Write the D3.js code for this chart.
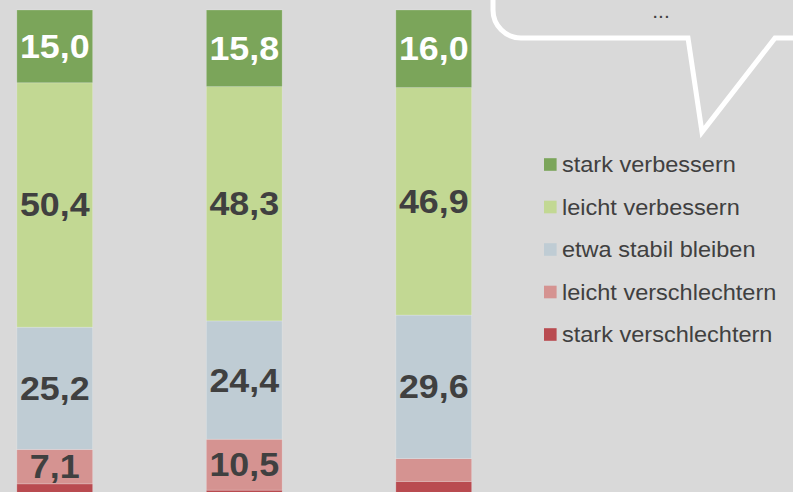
<!DOCTYPE html>
<html>
<head>
<meta charset="utf-8">
<script src="https://cdn.jsdelivr.net/npm/d3@7/dist/d3.min.js"></script>
<style>
  html, body { margin: 0; padding: 0; background: #d9d9d9; }
  svg { display: block; }
  text { font-family: "Liberation Sans", Arial, Helvetica, sans-serif; }
</style>
</head>
<body>
<svg id="chart" width="793" height="492"></svg>
<script>
// ---- Data ----
const categories = ["Gruppe 1", "Gruppe 2", "Gruppe 3"];
const seriesNames = ["stark verschlechtern", "leicht verschlechtern", "etwa stabil bleiben", "leicht verbessern", "stark verbessern"];
const starkVerschlechtern = [2.3, 1.0, 2.8];
const leichtVerschlechtern = [7.1, 10.5, 4.7];
const etwaStabil = [25.2, 24.4, 29.6];
const leichtVerbessern = [50.4, 48.3, 46.9];
const starkVerbessern = [15.0, 15.8, 16.0];
const legendOrder = ["stark verbessern", "leicht verbessern", "etwa stabil bleiben", "leicht verschlechtern", "stark verschlechtern"];
const calloutText = "...";

const colors = {
  "stark verbessern": "#7ba55a",
  "leicht verbessern": "#c2d893",
  "etwa stabil bleiben": "#bfccd4",
  "leicht verschlechtern": "#d59391",
  "stark verschlechtern": "#b94b50"
};
const labelColor = { "stark verbessern": "#ffffff" };

const seriesValues = [starkVerschlechtern, leichtVerschlechtern, etwaStabil, leichtVerbessern, starkVerbessern];
const table = categories.map((c, i) => {
  const row = { cat: c };
  seriesNames.forEach((s, j) => row[s] = seriesValues[j][i]);
  return row;
});

const svg = d3.select("#chart");
svg.append("rect").attr("width", 793).attr("height", 492).attr("fill", "#d9d9d9");

const x = d3.scaleBand().domain(categories).range([-40, 528.5]).paddingInner(0.6).paddingOuter(0.3);
const y = d3.scaleLinear().domain([0, 100]).range([495, 10]);

const stack = d3.stack().keys(seriesNames)(table);
const de = d3.formatLocale({ decimal: ",", thousands: ".", grouping: [3], currency: ["", " €"] });
const fmt = de.format(".1f");

const g = svg.append("g");
stack.forEach(layer => {
  const key = layer.key;
  const lg = g.append("g");
  lg.selectAll("rect").data(layer).join("rect")
    .attr("x", d => x(d.data.cat))
    .attr("width", x.bandwidth())
    .attr("y", d => y(d[1]))
    .attr("height", d => y(d[0]) - y(d[1]))
    .attr("fill", colors[key])
    .attr("stroke", "rgba(255,255,255,0.25)")
    .attr("stroke-width", 0.8);
  lg.selectAll("text").data(layer.filter(d => d[1] - d[0] >= 5)).join("text")
    .attr("transform", d => `translate(${x(d.data.cat) + x.bandwidth() / 2},${(y(d[0]) + y(d[1])) / 2 + 11.5}) scale(1.07,1)`)
    .attr("text-anchor", "middle")
    .attr("font-size", 33.5)
    .attr("font-weight", "bold")
    .attr("fill", labelColor[key] || "#404040")
    .text(d => fmt(d[1] - d[0]));
});

// Legend
const legend = svg.append("g");
const ly = d3.scalePoint().domain(legendOrder).range([164.5, 334.5]);
legendOrder.forEach(k => {
  legend.append("rect").attr("x", 544).attr("y", ly(k) - 6.3).attr("width", 12.6).attr("height", 12.6).attr("fill", colors[k]);
  legend.append("text")
    .attr("transform", `translate(562,${ly(k) + 7.8}) scale(1.06,1)`)
    .attr("font-size", 22.2)
    .attr("fill", "#404040")
    .text(k);
});

// Speech bubble
const r = 28;
const bubble = d3.path();
bubble.moveTo(493, -10);
bubble.lineTo(493, 38 - r);
bubble.arcTo(493, 38, 493 + r, 38, r);
bubble.lineTo(688, 38);
bubble.lineTo(702, 132);
bubble.lineTo(775, 38);
bubble.lineTo(800, 38);
svg.append("path").attr("d", bubble.toString())
  .attr("fill", "none").attr("stroke", "#ffffff").attr("stroke-width", 5).attr("stroke-linejoin", "miter");
svg.append("text").attr("x", 661).attr("y", 18).attr("text-anchor", "middle")
  .attr("font-size", 21).attr("fill", "#404040").text(calloutText);
</script>
</body>
</html>
